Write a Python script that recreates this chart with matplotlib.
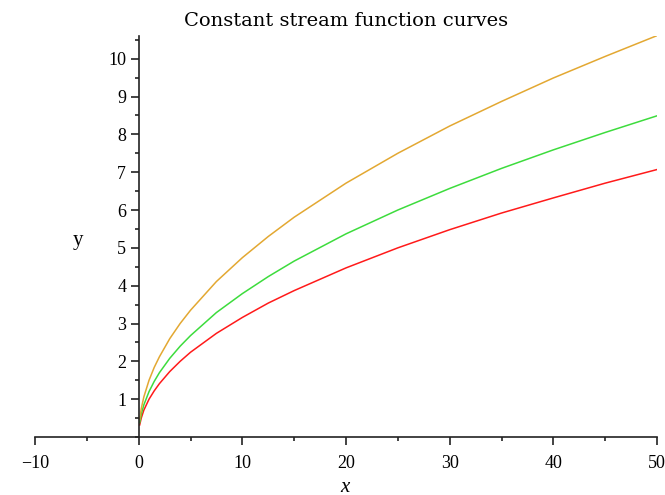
import matplotlib
matplotlib.use("Agg")
import matplotlib.pyplot as plt
from matplotlib.ticker import MultipleLocator, FixedLocator

# Sample points along each constant stream function curve
x_vals = [0.1, 0.25, 0.5, 1, 1.5, 2, 3, 4, 5, 7.5, 10, 12.5, 15, 20, 25, 30, 35, 40, 45, 50]
y_red = [0.32, 0.50, 0.71, 1.00, 1.22, 1.41, 1.73, 2.00, 2.24, 2.74, 3.16, 3.54,
         3.87, 4.47, 5.00, 5.48, 5.92, 6.32, 6.71, 7.07]
y_green = [0.38, 0.60, 0.85, 1.20, 1.47, 1.70, 2.08, 2.40, 2.68, 3.29, 3.79, 4.24,
           4.65, 5.37, 6.00, 6.57, 7.10, 7.59, 8.05, 8.49]
y_orange = [0.47, 0.75, 1.06, 1.50, 1.84, 2.12, 2.60, 3.00, 3.35, 4.11, 4.74, 5.30,
            5.81, 6.71, 7.50, 8.22, 8.87, 9.49, 10.06, 10.61]

x_ticks = [-10, 0, 10, 20, 30, 40, 50]
y_ticks = [1, 2, 3, 4, 5, 6, 7, 8, 9, 10]

serif = "Liberation Serif"

fig = plt.figure(figsize=(6.65, 4.95), dpi=100)
ax = fig.add_axes([35 / 665, (495 - 437) / 495, 622 / 665, 401 / 495])

ax.plot(x_vals, y_red, color="#ff1a1a", lw=1.1)
ax.plot(x_vals, y_green, color="#3ddc3d", lw=1.1)
ax.plot(x_vals, y_orange, color="#e3a832", lw=1.1)

ax.set_xlim(-10, 50)
ax.set_ylim(0, 10.6)

for s in ("top", "right"):
    ax.spines[s].set_visible(False)
ax.spines["left"].set_position(("data", 0))
ax.spines["left"].set_bounds(0, 10.6)
ax.spines["bottom"].set_bounds(-10, 50)
for s in ("left", "bottom"):
    ax.spines[s].set_linewidth(1.2)
    ax.spines[s].set_color("#222222")

ax.xaxis.set_major_locator(FixedLocator(x_ticks))
ax.xaxis.set_minor_locator(MultipleLocator(5))
ax.yaxis.set_major_locator(FixedLocator(y_ticks))
ax.yaxis.set_minor_locator(MultipleLocator(0.5))
ax.set_xticklabels(["\u221210" if t < 0 else str(t) for t in x_ticks])
ax.set_yticklabels([str(t) for t in y_ticks])

ax.tick_params(axis="both", which="major", length=6, width=1.2, color="#222222",
               labelsize=13)
ax.tick_params(axis="x", which="major", pad=7)
ax.tick_params(axis="y", which="major", pad=3)
ax.tick_params(axis="both", which="minor", length=3, width=1.2, color="#222222")
for lab in ax.get_xticklabels() + ax.get_yticklabels():
    lab.set_fontfamily(serif)

ax.set_title("Constant stream function curves", fontsize=14, family="DejaVu Serif",
             pad=7)
fig.text(78 / 665, 1 - 240 / 495, "y", fontsize=15, family=serif,
         ha="center", va="center")
fig.text(345 / 665, 1 - 487 / 495, "x", fontsize=15, family=serif, style="italic",
         ha="center", va="center")

fig.savefig("out.png", dpi=100)
